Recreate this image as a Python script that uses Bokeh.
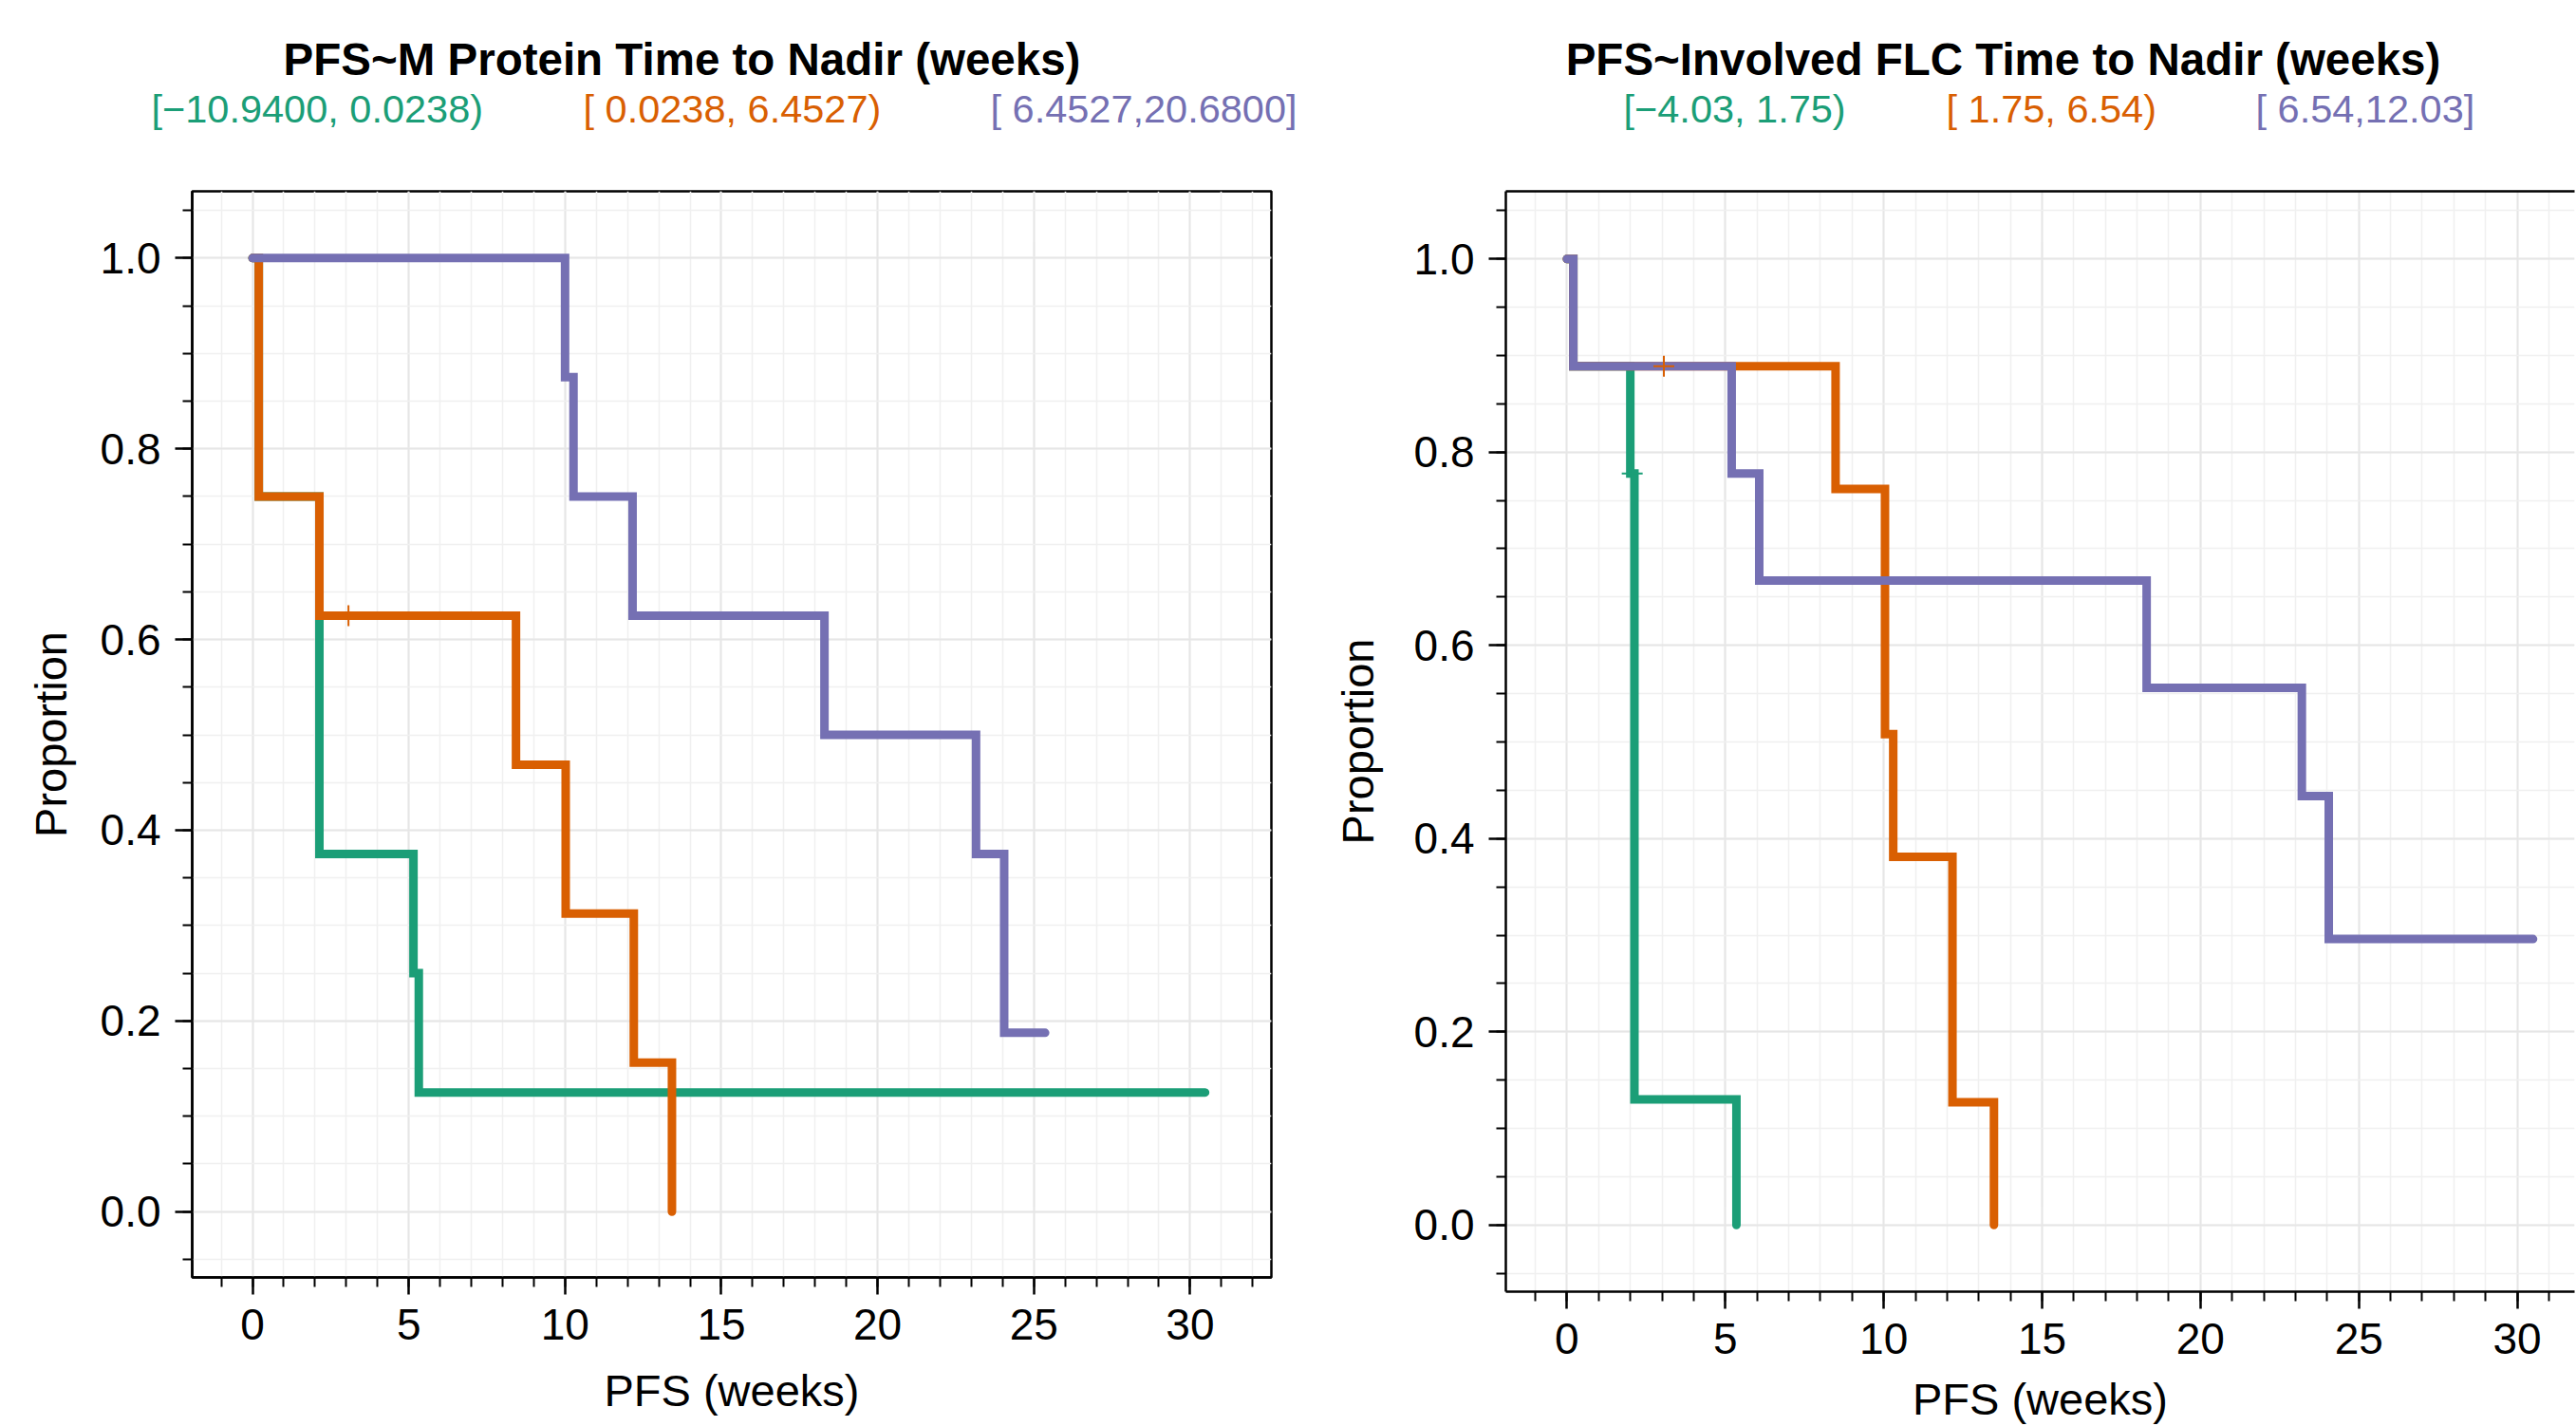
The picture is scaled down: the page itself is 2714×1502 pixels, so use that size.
from bokeh.plotting import figure
from bokeh.layouts import row, column
from bokeh.models import (Range1d, SingleIntervalTicker, NumeralTickFormatter,
                          LinearAxis, FixedTicker)
from bokeh.core.properties import value
from bokeh.embed import file_html
from bokeh.resources import INLINE

FONT = "Liberation Sans"
GREEN, ORANGE, PURPLE = "#1b9e77", "#d95f02", "#7570b3"

# ---------------- data: left panel (M protein) ----------------
m_title = "PFS~M Protein Time to Nadir (weeks)"
m_groups = ["[\u221210.9400, 0.0238)", "[ 0.0238, 6.4527)", "[ 6.4527,20.6800]"]
m_green_t = [0, 0.2, 2.14, 5.15, 5.32, 30.48]
m_green_s = [1.0, 0.75, 0.375, 0.25, 0.125, 0.125]
m_orange_t = [0, 0.2, 2.14, 8.43, 10.02, 12.2, 13.42]
m_orange_s = [1.0, 0.75, 0.625, 0.46875, 0.3125, 0.15625, 0.0]
m_purple_t = [0, 10.0, 10.27, 12.16, 18.3, 23.15, 24.05, 25.36]
m_purple_s = [1.0, 0.875, 0.75, 0.625, 0.5, 0.375, 0.1875, 0.1875]
m_cens_green_t, m_cens_green_s = [], []
m_cens_orange_t, m_cens_orange_s = [3.07], [0.625]
m_cens_purple_t, m_cens_purple_s = [], []

# ---------------- data: right panel (involved FLC) ----------------
f_title = "PFS~Involved FLC Time to Nadir (weeks)"
f_groups = ["[\u22124.03, 1.75)", "[ 1.75, 6.54)", "[ 6.54,12.03]"]
f_green_t = [0, 0.2, 2.0, 2.13, 5.35]
f_green_s = [1.0, 0.889, 0.778, 0.13, 0.0]
f_orange_t = [0, 0.2, 8.48, 10.04, 10.3, 12.17, 13.48]
f_orange_s = [1.0, 0.889, 0.762, 0.508, 0.381, 0.127, 0.0]
f_purple_t = [0, 0.2, 5.2, 6.07, 18.3, 23.2, 24.05, 30.5]
f_purple_s = [1.0, 0.889, 0.778, 0.667, 0.556, 0.444, 0.296, 0.296]
f_cens_green_t, f_cens_green_s = [2.06], [0.778]
f_cens_orange_t, f_cens_orange_s = [3.06], [0.889]
f_cens_purple_t, f_cens_purple_s = [], []

x_label = "PFS (weeks)"
y_label = "Proportion"

COLORS = [GREEN, ORANGE, PURPLE]
HEADER_H = 196


def make_header(width, title, groups, title_x, group_x):
    h = figure(width=width, height=HEADER_H, output_backend="svg",
               toolbar_location=None, title=None,
               x_range=Range1d(0, width), y_range=Range1d(0, HEADER_H),
               x_axis_type=None, y_axis_type=None,
               min_border_left=0, min_border_right=0,
               min_border_top=0, min_border_bottom=0,
               background_fill_color="white", border_fill_color="white")
    h.frame_align = False
    h.outline_line_color = None
    h.grid.visible = False
    h.text(x=[title_x], y=[134], text=[title], text_font=value(FONT),
           text_font_size=value("47.5px"), text_font_style="bold",
           text_color="black", text_align="center", text_baseline="middle")
    h.text(x=group_x, y=[82, 82, 82], text=groups, text_font=value(FONT),
           text_font_size=value("41.5px"), text_color=COLORS,
           text_align="left", text_baseline="middle")
    return h


def make_panel(width, height, mb_left, mb_right, mb_bottom, x_end,
               curves, censors, ylab_standoff, xlab_standoff, full_outline):
    p = figure(width=width, height=height, output_backend="svg",
               toolbar_location=None, title=None,
               x_range=Range1d(-1.93, x_end), y_range=Range1d(-0.069, 1.070),
               min_border_left=mb_left, min_border_right=mb_right,
               min_border_top=5, min_border_bottom=mb_bottom,
               background_fill_color="white", border_fill_color="white")
    p.frame_align = False
    p.xaxis.ticker = SingleIntervalTicker(interval=5, num_minor_ticks=5)
    p.yaxis.ticker = SingleIntervalTicker(interval=0.2, num_minor_ticks=4)
    p.yaxis.formatter = NumeralTickFormatter(format="0.0")
    for ax in (p.xaxis[0], p.yaxis[0]):
        ax.axis_line_color = "black"
        ax.axis_line_width = 2.5
        ax.major_tick_line_color = "black"
        ax.major_tick_line_width = 2.5
        ax.major_tick_out = 18
        ax.major_tick_in = 0
        ax.minor_tick_line_color = "black"
        ax.minor_tick_line_width = 2
        ax.minor_tick_out = 10
        ax.minor_tick_in = 0
        ax.major_label_text_font = FONT
        ax.major_label_text_font_size = "46px"
        ax.major_label_text_color = "black"
        ax.axis_label_text_font = FONT
        ax.axis_label_text_font_size = "47px"
        ax.axis_label_text_font_style = "normal"
        ax.axis_label_text_color = "black"
    p.xaxis.axis_label = x_label
    p.yaxis.axis_label = y_label
    p.xaxis.major_label_standoff = 15
    p.yaxis.major_label_standoff = 15
    p.yaxis.axis_label_standoff = ylab_standoff
    p.xaxis.axis_label_standoff = xlab_standoff

    for g in (p.xgrid[0], p.ygrid[0]):
        g.grid_line_color = "#e6e6e6"
        g.grid_line_width = 2
        g.minor_grid_line_color = "#f0f0f0"
        g.minor_grid_line_width = 1.6

    if full_outline:
        p.outline_line_color = "black"
        p.outline_line_width = 2.5
    else:
        p.outline_line_color = None
        top = LinearAxis(ticker=FixedTicker(ticks=[]), axis_line_color="black",
                         axis_line_width=2.5, major_tick_line_color=None,
                         minor_tick_line_color=None,
                         major_label_text_font_size="0px")
        p.add_layout(top, "above")

    for (t, s), c in zip(curves, COLORS):
        p.step(t, s, mode="after", line_color=c, line_width=9,
               line_join="miter", line_cap="round")
    for (t, s), c in zip(censors, COLORS):
        if t:
            p.scatter(t, s, marker="cross", size=22, line_color=c,
                      line_width=2)
    return p


h1 = make_header(1400, m_title, m_groups, 718, [159, 614, 1043])
p1 = make_panel(1400, 1502 - HEADER_H, 202, 61, 157, 32.6,
                [(m_green_t, m_green_s), (m_orange_t, m_orange_s),
                 (m_purple_t, m_purple_s)],
                [(m_cens_green_t, m_cens_green_s),
                 (m_cens_orange_t, m_cens_orange_s),
                 (m_cens_purple_t, m_cens_purple_s)],
                23, 24, True)

h2 = make_header(1314, f_title, f_groups, 710, [310, 650, 976])
p2 = make_panel(1314, 1502 - HEADER_H, 185, 2, 141, 31.81,
                [(f_green_t, f_green_s), (f_orange_t, f_orange_s),
                 (f_purple_t, f_purple_s)],
                [(f_cens_green_t, f_cens_green_s),
                 (f_cens_orange_t, f_cens_orange_s),
                 (f_cens_purple_t, f_cens_purple_s)],
                30, 18, False)

layout = row(column(h1, p1), column(h2, p2))
open("out.html", "w").write(file_html(layout, INLINE))
